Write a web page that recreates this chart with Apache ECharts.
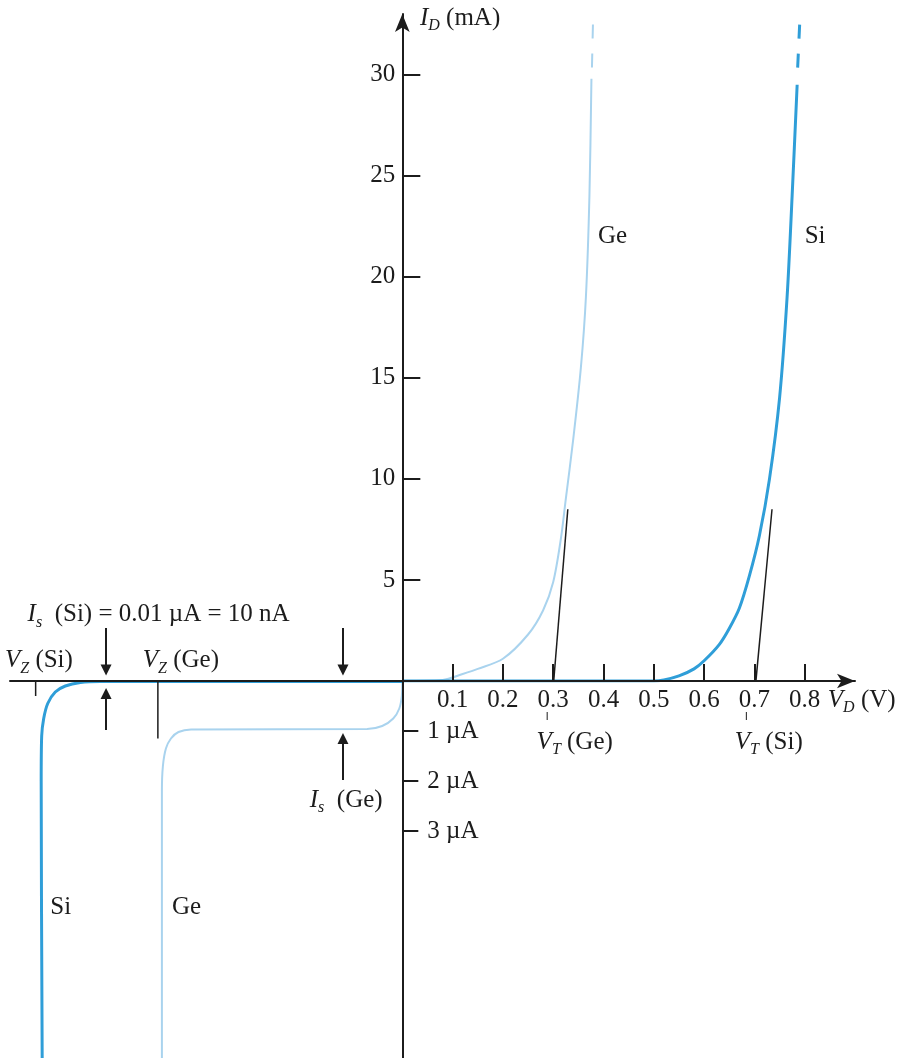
<!DOCTYPE html>
<html>
<head>
<meta charset="utf-8">
<script src="https://cdn.jsdelivr.net/npm/echarts@6/dist/echarts.min.js"></script>
<style>
  html, body { margin: 0; padding: 0; background: #fff; }
  #main { width: 911px; height: 1058px; }
</style>
</head>
<body>
<div id="main"></div>
<script>
// forward bias: V_D (V) against I_D (mA)
var siForwardV = [0, 0.50, 0.52, 0.55, 0.58, 0.60, 0.63, 0.65, 0.67, 0.69, 0.71, 0.73, 0.75, 0.765, 0.775, 0.785];
var siForwardI = [0, 0, 0.05, 0.25, 0.6, 1.0, 1.8, 2.6, 3.6, 5.2, 7.2, 10, 14, 19, 24, 29.5];
var geForwardV = [0, 0.08, 0.12, 0.15, 0.2, 0.25, 0.28, 0.3, 0.315, 0.325, 0.34, 0.355, 0.365, 0.372, 0.376];
var geForwardI = [0, 0.05, 0.35, 0.6, 1.1, 2.3, 3.5, 4.9, 7, 9, 12, 15.5, 19, 24, 29.8];
// curves run off the top of the chart (dashed)
var siDashV = [0.786, 0.79];
var siDashI = [30.35, 32.5];
var geDashV = [0.377, 0.379];
var geDashI = [30.35, 32.5];

// reverse bias (voltage not to scale): V_D against I_D (µA)
var siReverseV = [0, -0.60, -0.64, -0.67, -0.69, -0.705, -0.713, -0.717, -0.718, -0.716];
var siReverseI = [-0.01, -0.01, -0.03, -0.1, -0.22, -0.45, -0.75, -1.1, -2, -7.6];
var geReverseV = [0, -0.001, -0.006, -0.018, -0.04, -0.07, -0.42, -0.445, -0.46, -0.47, -0.476, -0.478, -0.478];
var geReverseI = [0, -0.3, -0.55, -0.75, -0.9, -0.96, -0.97, -1.02, -1.15, -1.35, -1.7, -2.2, -7.6];

// threshold tangents V_T
var vtGeV = [0.301, 0.329];
var vtSiV = [0.703, 0.735];
var vtI = [0, 8.5];
// zener markers V_Z
var vzSiV = -0.729;
var vzGeV = -0.486;
var vzSiI = [0, -0.3];
var vzGeI = [0, -1.15];
// saturation current arrows
var isSiV = -0.589;
var isGeV = -0.118;

var vTicks = [0.1, 0.2, 0.3, 0.4, 0.5, 0.6, 0.7, 0.8];
var mATicks = [5, 10, 15, 20, 25, 30];
var uATicks = [-1, -2, -3];

var V_MIN = -0.78, V_MAX = 0.9;
var GRID_LEFT = 10, GRID_RIGHT = 56;

var SERIF = '"Liberation Serif", "DejaVu Serif", serif';
var FS = 25;
var INK = '#1c1c1c';
var SI = '#2f9ed8';
var GE = '#a9d3ee';

function pairs(xs, ys) {
  return xs.map(function (x, i) { return [x, ys[i]]; });
}

function curve(grid, data, color, width, extra) {
  var s = {
    type: 'line',
    xAxisIndex: grid,
    yAxisIndex: grid,
    data: data,
    symbol: 'none',
    silent: true,
    lineStyle: { color: color, width: width },
    z: 2
  };
  for (var k in extra) s[k] = extra[k];
  return s;
}

var rich = {
  n: { fontFamily: SERIF, fontSize: FS, color: INK, lineHeight: 32, verticalAlign: 'middle' },
  it: { fontFamily: SERIF, fontSize: FS, fontStyle: 'italic', color: INK, lineHeight: 32, verticalAlign: 'middle' },
  sub: { fontFamily: SERIF, fontSize: 16, fontStyle: 'italic', color: INK, lineHeight: 17, verticalAlign: 'bottom' }
};

// text notes placed in data coordinates of a grid
var notes = [
  { grid: 0, at: [0.035, 32.8], text: '{it|I}{sub|D}{n| (mA)}' },
  { grid: 1, at: [0.846, -0.38], text: '{it|V}{sub|D}{n| (V)}' },
  { grid: 0, at: [-0.745, 3.3], text: '{it|I}{sub|s}{n|  (Si) = 0.01 µA = 10 nA}' },
  { grid: 0, at: [-0.79, 1.0], text: '{it|V}{sub|Z}{n| (Si)}' },
  { grid: 0, at: [-0.516, 1.0], text: '{it|V}{sub|Z}{n| (Ge)}' },
  { grid: 1, at: [-0.184, -2.38], text: '{it|I}{sub|s}{n|  (Ge)}' },
  { grid: 1, at: [0.267, -1.22], text: '{it|V}{sub|T}{n| (Ge)}' },
  { grid: 1, at: [0.661, -1.22], text: '{it|V}{sub|T}{n| (Si)}' },
  { grid: 0, at: [0.389, 22], text: '{n|Ge}' },
  { grid: 0, at: [0.800, 22], text: '{n|Si}' },
  { grid: 1, at: [-0.700, -4.52], text: '{n|Si}' },
  { grid: 1, at: [-0.458, -4.52], text: '{n|Ge}' }
];

function arrows(list) {
  return {
    silent: true,
    symbol: ['none', 'triangle'],
    symbolSize: 11,
    label: { show: false },
    lineStyle: { type: 'solid', color: INK, width: 2 },
    animation: false,
    data: list.map(function (a) {
      return [{ coord: a[0] }, { coord: a[1] }];
    })
  };
}

var chart = echarts.init(document.getElementById('main'));

// the current axis sits at V = 0, measured in from the grid's left edge
var plotW = chart.getWidth() - GRID_LEFT - GRID_RIGHT;
var zeroShift = (0 - V_MIN) / (V_MAX - V_MIN) * plotW;

var xBase = {
  type: 'value',
  min: V_MIN,
  max: V_MAX,
  splitLine: { show: false }
};

var option = {
  animation: false,
  backgroundColor: '#fff',
  grid: [
    { left: GRID_LEFT, right: GRID_RIGHT, top: 14, bottom: 377, outerBoundsMode: 'none', containLabel: false },
    { left: GRID_LEFT, right: GRID_RIGHT, top: 681, bottom: 0, outerBoundsMode: 'none', containLabel: false }
  ],
  xAxis: [
    Object.assign({}, xBase, {
      gridIndex: 0,
      z: 4,
      axisLine: {
        onZero: true,
        symbol: ['none', 'arrow'],
        symbolSize: [11, 18],
        lineStyle: { color: INK, width: 2 }
      },
      axisTick: {
        inside: true,
        length: 17,
        customValues: vTicks,
        lineStyle: { color: INK, width: 2 }
      },
      axisLabel: {
        customValues: vTicks,
        margin: 7,
        fontFamily: SERIF,
        fontSize: FS,
        color: INK,
        formatter: function (v) { return v.toFixed(1); }
      }
    }),
    Object.assign({}, xBase, { gridIndex: 1, show: false })
  ],
  yAxis: [
    {
      gridIndex: 0,
      type: 'value',
      position: 'left',
      offset: -zeroShift,
      min: 0,
      max: 33,
      z: 4,
      splitLine: { show: false },
      axisLine: {
        onZero: false,
        symbol: ['none', 'arrow'],
        symbolSize: [11, 18],
        lineStyle: { color: INK, width: 2 }
      },
      axisTick: {
        inside: true,
        length: 18,
        customValues: mATicks,
        lineStyle: { color: INK, width: 2 }
      },
      axisLabel: {
        customValues: mATicks,
        margin: 7,
        fontFamily: SERIF,
        fontSize: FS,
        color: INK
      }
    },
    {
      gridIndex: 1,
      type: 'value',
      position: 'left',
      offset: -zeroShift,
      min: -7.54,
      max: 0,
      z: 4,
      splitLine: { show: false },
      axisLine: {
        onZero: false,
        lineStyle: { color: INK, width: 2 }
      },
      axisTick: {
        inside: true,
        length: 16,
        customValues: uATicks,
        lineStyle: { color: INK, width: 2 }
      },
      axisLabel: {
        inside: true,
        customValues: uATicks,
        margin: 25,
        fontFamily: SERIF,
        fontSize: FS,
        color: INK,
        formatter: function (v) { return Math.abs(v) + ' µA'; }
      }
    }
  ],
  series: [
    curve(0, pairs(geForwardV, geForwardI), GE, 2, { smooth: 0.3 }),
    curve(0, pairs(geDashV, geDashI), GE, 2, { lineStyle: { color: GE, width: 2, type: [14, 15] } }),
    curve(0, pairs(siForwardV, siForwardI), SI, 3, { smooth: 0.3 }),
    curve(0, pairs(siDashV, siDashI), SI, 3, { lineStyle: { color: SI, width: 3, type: [14, 15] } }),
    curve(1, pairs(geReverseV, geReverseI), GE, 2, { smooth: 0.3 }),
    curve(1, pairs(siReverseV, siReverseI), SI, 3, { smooth: 0.3 }),
    // V_T tangents
    curve(0, pairs(vtGeV, vtI), INK, 1.5, {}),
    curve(0, pairs(vtSiV, vtI), INK, 1.5, {
      markLine: arrows([
        [[isSiV, 2.62], [isSiV, 0.55]],
        [[isGeV, 2.62], [isGeV, 0.55]]
      ])
    }),
    // V_Z markers
    curve(1, pairs([vzSiV, vzSiV], vzSiI), INK, 1.5, {}),
    curve(1, pairs([vzGeV, vzGeV], vzGeI), INK, 1.5, {
      markLine: arrows([
        [[isSiV, -0.98], [isSiV, -0.25]],
        [[isGeV, -1.98], [isGeV, -1.15]]
      ])
    }),
    // little leaders under 0.3 / 0.7
    curve(1, pairs([0.288, 0.288], [-0.62, -0.78]), INK, 1, {}),
    curve(1, pairs([0.684, 0.684], [-0.62, -0.78]), INK, 1, {})
  ]
};

chart.setOption(option);

chart.setOption({
  graphic: notes.map(function (n) {
    var p = chart.convertToPixel({ gridIndex: n.grid }, n.at);
    return {
      type: 'text',
      x: p[0],
      y: p[1],
      silent: true,
      style: {
        text: n.text,
        rich: rich,
        align: 'left',
        verticalAlign: 'middle',
        fill: INK
      }
    };
  })
});
</script>
</body>
</html>
